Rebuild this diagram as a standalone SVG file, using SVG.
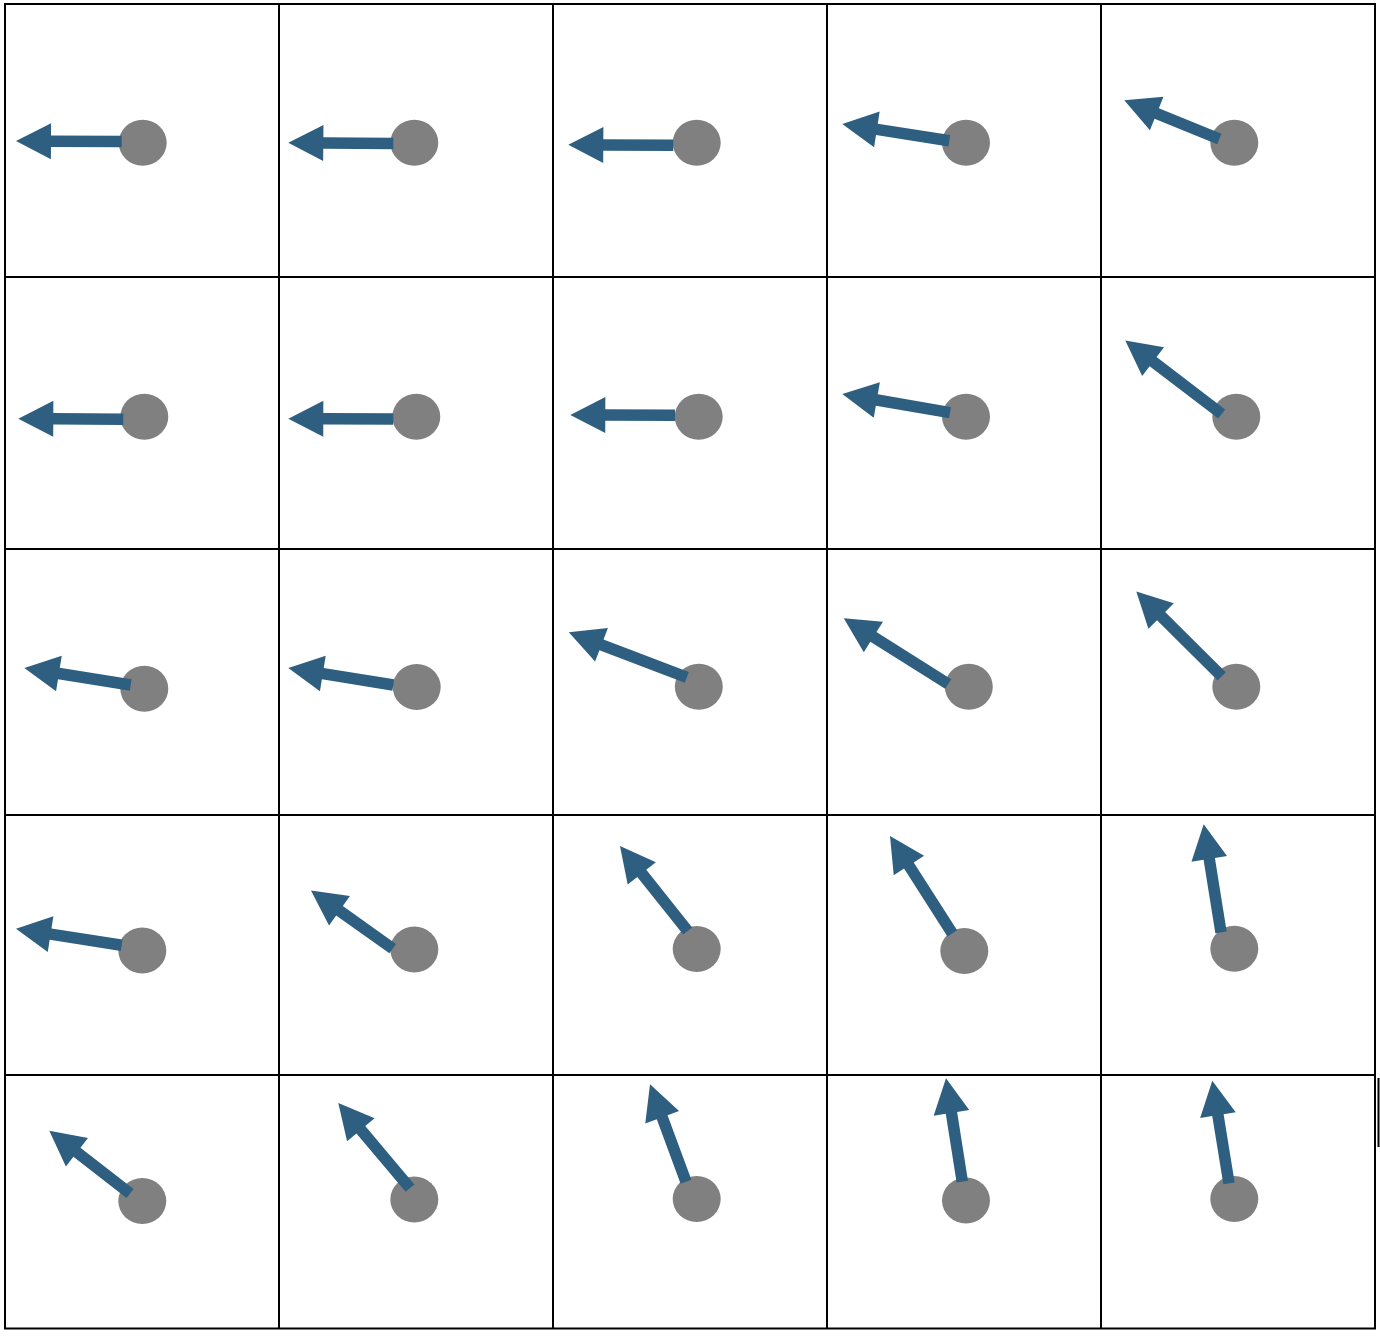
<svg xmlns="http://www.w3.org/2000/svg" width="1380" height="1338" viewBox="0 0 1380 1338">
<style>
.grid{stroke:#000;stroke-width:2;fill:none}
.dot{fill:#808080}
.arr{fill:#2e5f80}
</style>
<rect width="1380" height="1338" fill="#fff"/>
<g id="grid" class="grid">
<line x1="5" y1="3" x2="5" y2="1329"/>
<line x1="279" y1="3" x2="279" y2="1329"/>
<line x1="553" y1="3" x2="553" y2="1329"/>
<line x1="827" y1="3" x2="827" y2="1329"/>
<line x1="1101" y1="3" x2="1101" y2="1329"/>
<line x1="1375" y1="3" x2="1375" y2="1329"/>
<line x1="4" y1="4" x2="1376" y2="4"/>
<line x1="4" y1="277" x2="1376" y2="277"/>
<line x1="4" y1="549" x2="1376" y2="549"/>
<line x1="4" y1="815" x2="1376" y2="815"/>
<line x1="4" y1="1075" x2="1376" y2="1075"/>
<line x1="4" y1="1328.5" x2="1376" y2="1328.5"/>
</g>
<rect x="1377.5" y="1078" width="2" height="69" fill="#000"/>
<g id="nodes">
<g id="n11"><ellipse class="dot" cx="142.7" cy="142.7" rx="24" ry="23"/></g>
<g id="n12"><ellipse class="dot" cx="414.3" cy="142.7" rx="24" ry="23"/></g>
<g id="n13"><ellipse class="dot" cx="696.7" cy="142.7" rx="24" ry="23"/></g>
<g id="n14"><ellipse class="dot" cx="966" cy="142.7" rx="24" ry="23"/></g>
<g id="n15"><ellipse class="dot" cx="1234.3" cy="142.7" rx="24" ry="23"/></g>
<g id="n21"><ellipse class="dot" cx="144.3" cy="416.7" rx="24" ry="23"/></g>
<g id="n22"><ellipse class="dot" cx="416.3" cy="416.7" rx="24" ry="23"/></g>
<g id="n23"><ellipse class="dot" cx="698.7" cy="416.7" rx="24" ry="23"/></g>
<g id="n24"><ellipse class="dot" cx="966" cy="416.7" rx="24" ry="23"/></g>
<g id="n25"><ellipse class="dot" cx="1236.3" cy="416.8" rx="24" ry="23"/></g>
<g id="n31"><ellipse class="dot" cx="144.3" cy="688.8" rx="24" ry="23"/></g>
<g id="n32"><ellipse class="dot" cx="416.7" cy="687.1" rx="24" ry="23"/></g>
<g id="n33"><ellipse class="dot" cx="698.8" cy="686.7" rx="24" ry="23"/></g>
<g id="n34"><ellipse class="dot" cx="968.8" cy="686.7" rx="24" ry="23"/></g>
<g id="n35"><ellipse class="dot" cx="1236.3" cy="686.8" rx="24" ry="23"/></g>
<g id="n41"><ellipse class="dot" cx="142.3" cy="950.6" rx="24" ry="23"/></g>
<g id="n42"><ellipse class="dot" cx="414.3" cy="949.4" rx="24" ry="23"/></g>
<g id="n43"><ellipse class="dot" cx="696.7" cy="949" rx="24" ry="23"/></g>
<g id="n44"><ellipse class="dot" cx="964.3" cy="951" rx="24" ry="23"/></g>
<g id="n45"><ellipse class="dot" cx="1234.3" cy="948.7" rx="24" ry="23"/></g>
<g id="n51"><ellipse class="dot" cx="142.3" cy="1201" rx="24" ry="23"/></g>
<g id="n52"><ellipse class="dot" cx="414.3" cy="1199.5" rx="24" ry="23"/></g>
<g id="n53"><ellipse class="dot" cx="696.7" cy="1199" rx="24" ry="23"/></g>
<g id="n54"><ellipse class="dot" cx="966" cy="1200.5" rx="24" ry="23"/></g>
<g id="n55"><ellipse class="dot" cx="1234.3" cy="1199" rx="24" ry="23"/></g>
</g>
<g id="connectors" class="arr">
<path transform="translate(121.7,141.5) rotate(-179.73)" d="M0,-5.75H70.7V-18L105.7,0L70.7,18V5.75H0Z"/>
<path transform="translate(393.3,143.5) rotate(-179.56)" d="M0,-5.75H70V-18L105,0L70,18V5.75H0Z"/>
<path transform="translate(673.3,145.3) rotate(-179.67)" d="M0,-5.75H70V-18L105,0L70,18V5.75H0Z"/>
<path transform="translate(949.3,140.7) rotate(-171.13)" d="M0,-5.75H73.3V-18L108.3,0L73.3,18V5.75H0Z"/>
<path transform="translate(1219.3,139) rotate(-157.83)" d="M0,-5.75H67.6V-18L102.6,0L67.6,18V5.75H0Z"/>
<path transform="translate(123.3,419.2) rotate(-179.73)" d="M0,-5.75H70V-18L105,0L70,18V5.75H0Z"/>
<path transform="translate(393.3,419) rotate(-179.84)" d="M0,-5.75H70V-18L105,0L70,18V5.75H0Z"/>
<path transform="translate(675,415.3) rotate(-179.84)" d="M0,-5.75H69.7V-18L104.7,0L69.7,18V5.75H0Z"/>
<path transform="translate(950,412.7) rotate(-170.15)" d="M0,-5.75H74.3V-18L109.3,0L74.3,18V5.75H0Z"/>
<path transform="translate(1221.7,414) rotate(-142.64)" d="M0,-5.75H86.3V-18L121.3,0L86.3,18V5.75H0Z"/>
<path transform="translate(130.7,685) rotate(-170.92)" d="M0,-5.75H72.7V-18L107.7,0L72.7,18V5.75H0Z"/>
<path transform="translate(393.3,685) rotate(-170.8)" d="M0,-5.75H71.4V-18L106.4,0L71.4,18V5.75H0Z"/>
<path transform="translate(686.8,677.3) rotate(-159.13)" d="M0,-5.75H91.3V-18L126.3,0L91.3,18V5.75H0Z"/>
<path transform="translate(948.2,684) rotate(-147.82)" d="M0,-5.75H88.4V-18L123.4,0L88.4,18V5.75H0Z"/>
<path transform="translate(1221.7,676.4) rotate(-135.13)" d="M0,-5.75H85.5V-18L120.5,0L85.5,18V5.75H0Z"/>
<path transform="translate(121.7,945.3) rotate(-171.07)" d="M0,-5.75H72V-18L107,0L72,18V5.75H0Z"/>
<path transform="translate(392.7,948.6) rotate(-144.58)" d="M0,-5.75H65.3V-18L100.3,0L65.3,18V5.75H0Z"/>
<path transform="translate(687.7,931) rotate(-128.54)" d="M0,-5.75H73.7V-18L108.7,0L73.7,18V5.75H0Z"/>
<path transform="translate(952.3,933.3) rotate(-122.64)" d="M0,-5.75H80.5V-18L115.5,0L80.5,18V5.75H0Z"/>
<path transform="translate(1221,932.3) rotate(-99.1)" d="M0,-5.75H74.4V-18L109.4,0L74.4,18V5.75H0Z"/>
<path transform="translate(130,1193.5) rotate(-142.15)" d="M0,-5.75H67.2V-18L102.2,0L67.2,18V5.75H0Z"/>
<path transform="translate(410,1188.1) rotate(-130.11)" d="M0,-5.75H76.3V-18L111.3,0L76.3,18V5.75H0Z"/>
<path transform="translate(686,1181.7) rotate(-110.28)" d="M0,-5.75H68.8V-18L103.8,0L68.8,18V5.75H0Z"/>
<path transform="translate(962.3,1181.7) rotate(-98.96)" d="M0,-5.75H69.7V-18L104.7,0L69.7,18V5.75H0Z"/>
<path transform="translate(1229,1183.3) rotate(-99.24)" d="M0,-5.75H69V-18L104,0L69,18V5.75H0Z"/>
</g>
</svg>
